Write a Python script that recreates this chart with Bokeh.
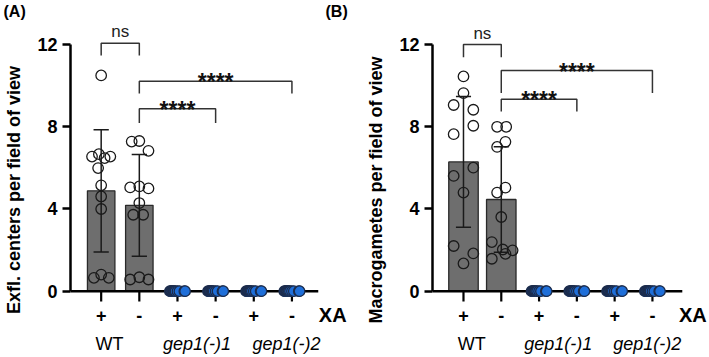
from bokeh.plotting import figure
from bokeh.models import FixedTicker, Range1d
from bokeh.layouts import row, column
from bokeh.embed import file_html
from bokeh.resources import INLINE
from bokeh.core.properties import value
import numpy as np

FONT = "Liberation Sans"

# ---------------- data ----------------
xa_labels = ["+", "-", "+", "-", "+", "-"]
group_labels = ["WT", "gep1(-)1", "gep1(-)2"]
panel_letters = ["(A)", "(B)"]
y_ticks = [0, 4, 8, 12]

# Panel A: exflagellation centers per field of view
exfl_wt_plus = [10.5, 6.55, 6.67, 6.48, 6.55, 5.99, 5.15, 4.61, 4.0, 0.65, 0.81, 0.65]
exfl_wt_minus = [7.28, 7.31, 6.83, 5.05, 5.1, 5.0, 4.29, 3.72, 3.72, 0.57, 0.68, 0.57]
exfl_g1_plus = [0, 0, 0, 0, 0, 0, 0, 0, 0, 0, 0, 0]
exfl_g1_minus = [0, 0, 0, 0, 0, 0, 0, 0, 0, 0, 0, 0]
exfl_g2_plus = [0, 0, 0, 0, 0, 0, 0, 0, 0, 0, 0, 0]
exfl_g2_minus = [0, 0, 0, 0, 0, 0, 0, 0, 0, 0, 0, 0]

# Panel B: macrogametes per field of view
macro_wt_plus = [10.45, 9.64, 9.06, 8.83, 8.05, 7.64, 6.01, 5.61, 4.8, 2.2, 1.84, 1.35]
macro_wt_minus = [8.0, 8.0, 7.02, 7.27, 5.04, 4.8, 3.61, 2.39, 2.03, 1.82, 1.99, 1.58]
macro_g1_plus = [0, 0, 0, 0, 0, 0, 0, 0, 0, 0, 0, 0]
macro_g1_minus = [0, 0, 0, 0, 0, 0, 0, 0, 0, 0, 0, 0]
macro_g2_plus = [0, 0, 0, 0, 0, 0, 0, 0, 0, 0, 0, 0]
macro_g2_minus = [0, 0, 0, 0, 0, 0, 0, 0, 0, 0, 0, 0]

# horizontal scatter offsets of the dots
dx_a_wt_plus = [0, -0.24, -0.06, 0.09, 0.24, -0.08, 0, 0, 0, -0.19, 0, 0.2]
dx_a_wt_minus = [-0.2, 0, 0.24, -0.24, 0, 0.24, 0, -0.16, 0.1, -0.24, 0, 0.24]
dx_b_wt_plus = [0, 0, -0.26, 0.26, 0.26, -0.26, 0.26, -0.26, 0, -0.26, 0.26, 0]
dx_b_wt_minus = [-0.11, 0.13, -0.11, 0.11, 0.11, -0.11, 0, -0.25, 0.04, 0.11, 0.3, -0.25]
dx_zero = [-0.2, -0.18, -0.16, -0.14, -0.12, -0.1, -0.08, -0.05, 0.0, 0.05, 0.18, 0.2]

# significance brackets: (x_left, x_right, y_top, y_drop, label, label_y)
brackets_a = [
    (1, 2, 12.07, 11.47, "ns", 12.62),
    (2, 6, 10.22, 9.62, "****", 10.17),
    (2, 4, 8.88, 8.18, "****", 8.83),
]
brackets_b = [
    (1, 2, 12.0, 11.39, "ns", 12.55),
    (2, 6, 10.74, 9.65, "****", 10.69),
    (2, 4, 9.34, 8.74, "****", 9.29),
]

GRAY = "#6e6e6e"
BLUE = "#1f6fd9"
STRIP_H = 22
H = 357 - STRIP_H   # height of the two panels (below the letter strip)
Y0, Y1 = -3.226, 13.075


def make_panel(groups, offsets, ylabel, bar_w, brackets, width, border_left,
               x_start, x_end, base_end):
    p = figure(width=width, height=H, output_backend="svg", toolbar_location=None,
               x_range=Range1d(x_start, x_end), y_range=Range1d(Y0, Y1),
               x_axis_location=None,
               min_border_left=border_left, min_border_right=0,
               min_border_top=0, min_border_bottom=0)
    p.outline_line_color = None
    p.xgrid.grid_line_color = None
    p.ygrid.grid_line_color = None
    p.background_fill_color = "white"

    xs = [1, 2, 3, 4, 5, 6]
    means = [float(np.mean(g)) for g in groups]
    sds = [float(np.std(g, ddof=1)) for g in groups]

    # bars
    p.vbar(x=xs, top=means, width=bar_w, fill_color=GRAY, line_color="#2a2a2a",
           line_width=1.3)

    # baseline (x axis line at y = 0) and tick marks
    p.segment(x0=[x_start], y0=[0], x1=[base_end], y1=[0], line_color="black",
              line_width=2.5)
    p.segment(x0=xs, y0=[0] * 6, x1=xs, y1=[-0.5] * 6, line_color="black",
              line_width=2.2)

    # error bars (mean +- SD)
    ex = [x for x, s in zip(xs, sds) if s > 0]
    em = [m for m, s in zip(means, sds) if s > 0]
    es = [s for s in sds if s > 0]
    lo = [m - s for m, s in zip(em, es)]
    hi = [m + s for m, s in zip(em, es)]
    p.segment(x0=ex, y0=lo, x1=ex, y1=hi, line_color="#1a1a1a", line_width=1.5)
    p.segment(x0=[x - 0.2 for x in ex], y0=lo, x1=[x + 0.2 for x in ex], y1=lo,
              line_color="#1a1a1a", line_width=1.5)
    p.segment(x0=[x - 0.2 for x in ex], y0=hi, x1=[x + 0.2 for x in ex], y1=hi,
              line_color="#1a1a1a", line_width=1.5)

    # points
    for i, (g, d) in enumerate(zip(groups, offsets)):
        px = [xs[i] + dd for dd in d]
        if i < 2:
            p.scatter(x=px, y=g, size=10.5, fill_color=None, line_color="#1a1a1a",
                      line_width=1.3)
        else:
            p.scatter(x=px, y=g, size=10.5, fill_color=BLUE, line_color="#1c2c4c",
                      line_width=1.3)

    # brackets
    for (xl, xr, yt, yd, lab, ly) in brackets:
        p.line(x=[xl, xl, xr, xr], y=[yd, yt, yt, yd], line_color="#333333",
               line_width=1.5)
        if lab == "ns":
            p.text(x=[(xl + xr) / 2], y=[ly], text=[lab], text_align="center",
                   text_baseline="alphabetic", text_font=value(FONT),
                   text_font_size="17px", text_color="#222222")
        else:
            p.text(x=[(xl + xr) / 2], y=[ly], text=[lab], text_align="center",
                   text_baseline="alphabetic", text_font=value(FONT),
                   text_font_size="23px", text_font_style="bold",
                   text_color="#111111")

    # x labels: XA treatment (+/-) and the strain groups
    p.text(x=xs, y=[-1.18] * 6, text=xa_labels,
           text_align="center", text_baseline="middle", text_font=value(FONT),
           text_font_size="18px", text_font_style="bold", text_color="black")
    p.text(x=[7.07], y=[-1.18], text=["XA"],
           text_align="center", text_baseline="middle", text_font=value(FONT),
           text_font_size="20px", text_font_style="bold", text_color="black")
    gpos = [1.22, 3.51, 5.86]
    p.text(x=gpos[:1], y=[-2.55], text=group_labels[:1], text_align="center",
           text_baseline="middle", text_font=value(FONT), text_font_size="18px",
           text_color="black")
    p.text(x=gpos[1:], y=[-2.55] * 2, text=group_labels[1:], text_align="center",
           text_baseline="middle", text_font=value(FONT), text_font_size="18px",
           text_font_style="italic", text_color="black")

    # y axis
    yax = p.yaxis[0]
    yax.bounds = (0, 12)
    yax.ticker = FixedTicker(ticks=y_ticks)
    yax.minor_tick_line_color = None
    yax.axis_line_width = 2.5
    yax.major_tick_line_width = 2.5
    yax.major_tick_out = 8
    yax.major_tick_in = 0
    yax.major_label_standoff = 5
    yax.major_label_text_font = FONT
    yax.major_label_text_font_size = "18px"
    yax.major_label_text_font_style = "bold"
    yax.major_label_text_color = "black"
    yax.axis_label = ylabel
    yax.axis_label_text_font = FONT
    yax.axis_label_text_font_size = "18px"
    yax.axis_label_text_font_style = "bold"
    yax.axis_label_text_color = "black"
    yax.axis_label_standoff = 10
    return p


# strip holding the panel letters
strip = figure(width=709, height=STRIP_H, output_backend="svg", toolbar_location=None,
               x_range=Range1d(0, 709), y_range=Range1d(0, STRIP_H),
               x_axis_location=None, y_axis_location=None,
               min_border_left=0, min_border_right=0, min_border_top=0,
               min_border_bottom=0)
strip.outline_line_color = None
strip.xgrid.grid_line_color = None
strip.ygrid.grid_line_color = None
strip.text(x=[3, 325], y=[11.5, 11.5], text=panel_letters, text_align="left",
           text_baseline="middle", text_font=value(FONT), text_font_size="16px",
           text_font_style="bold", text_color="black")

pa = make_panel(
    [exfl_wt_plus, exfl_wt_minus, exfl_g1_plus, exfl_g1_minus, exfl_g2_plus, exfl_g2_minus],
    [dx_a_wt_plus, dx_a_wt_minus, dx_zero, dx_zero, dx_zero, dx_zero],
    "Exfl. centers per field of view", 0.72, brackets_a, 354, 70,
    0.196, 7.64, 6.69)

pb = make_panel(
    [macro_wt_plus, macro_wt_minus, macro_g1_plus, macro_g1_minus, macro_g2_plus, macro_g2_minus],
    [dx_b_wt_plus, dx_b_wt_minus, dx_zero, dx_zero, dx_zero, dx_zero],
    "Macrogametes per field of view", 0.78, brackets_b, 355, 78,
    0.18, 7.51, 6.79)

layout = column(strip, row(pa, pb))
open("out.html", "w").write(file_html(layout, INLINE))
